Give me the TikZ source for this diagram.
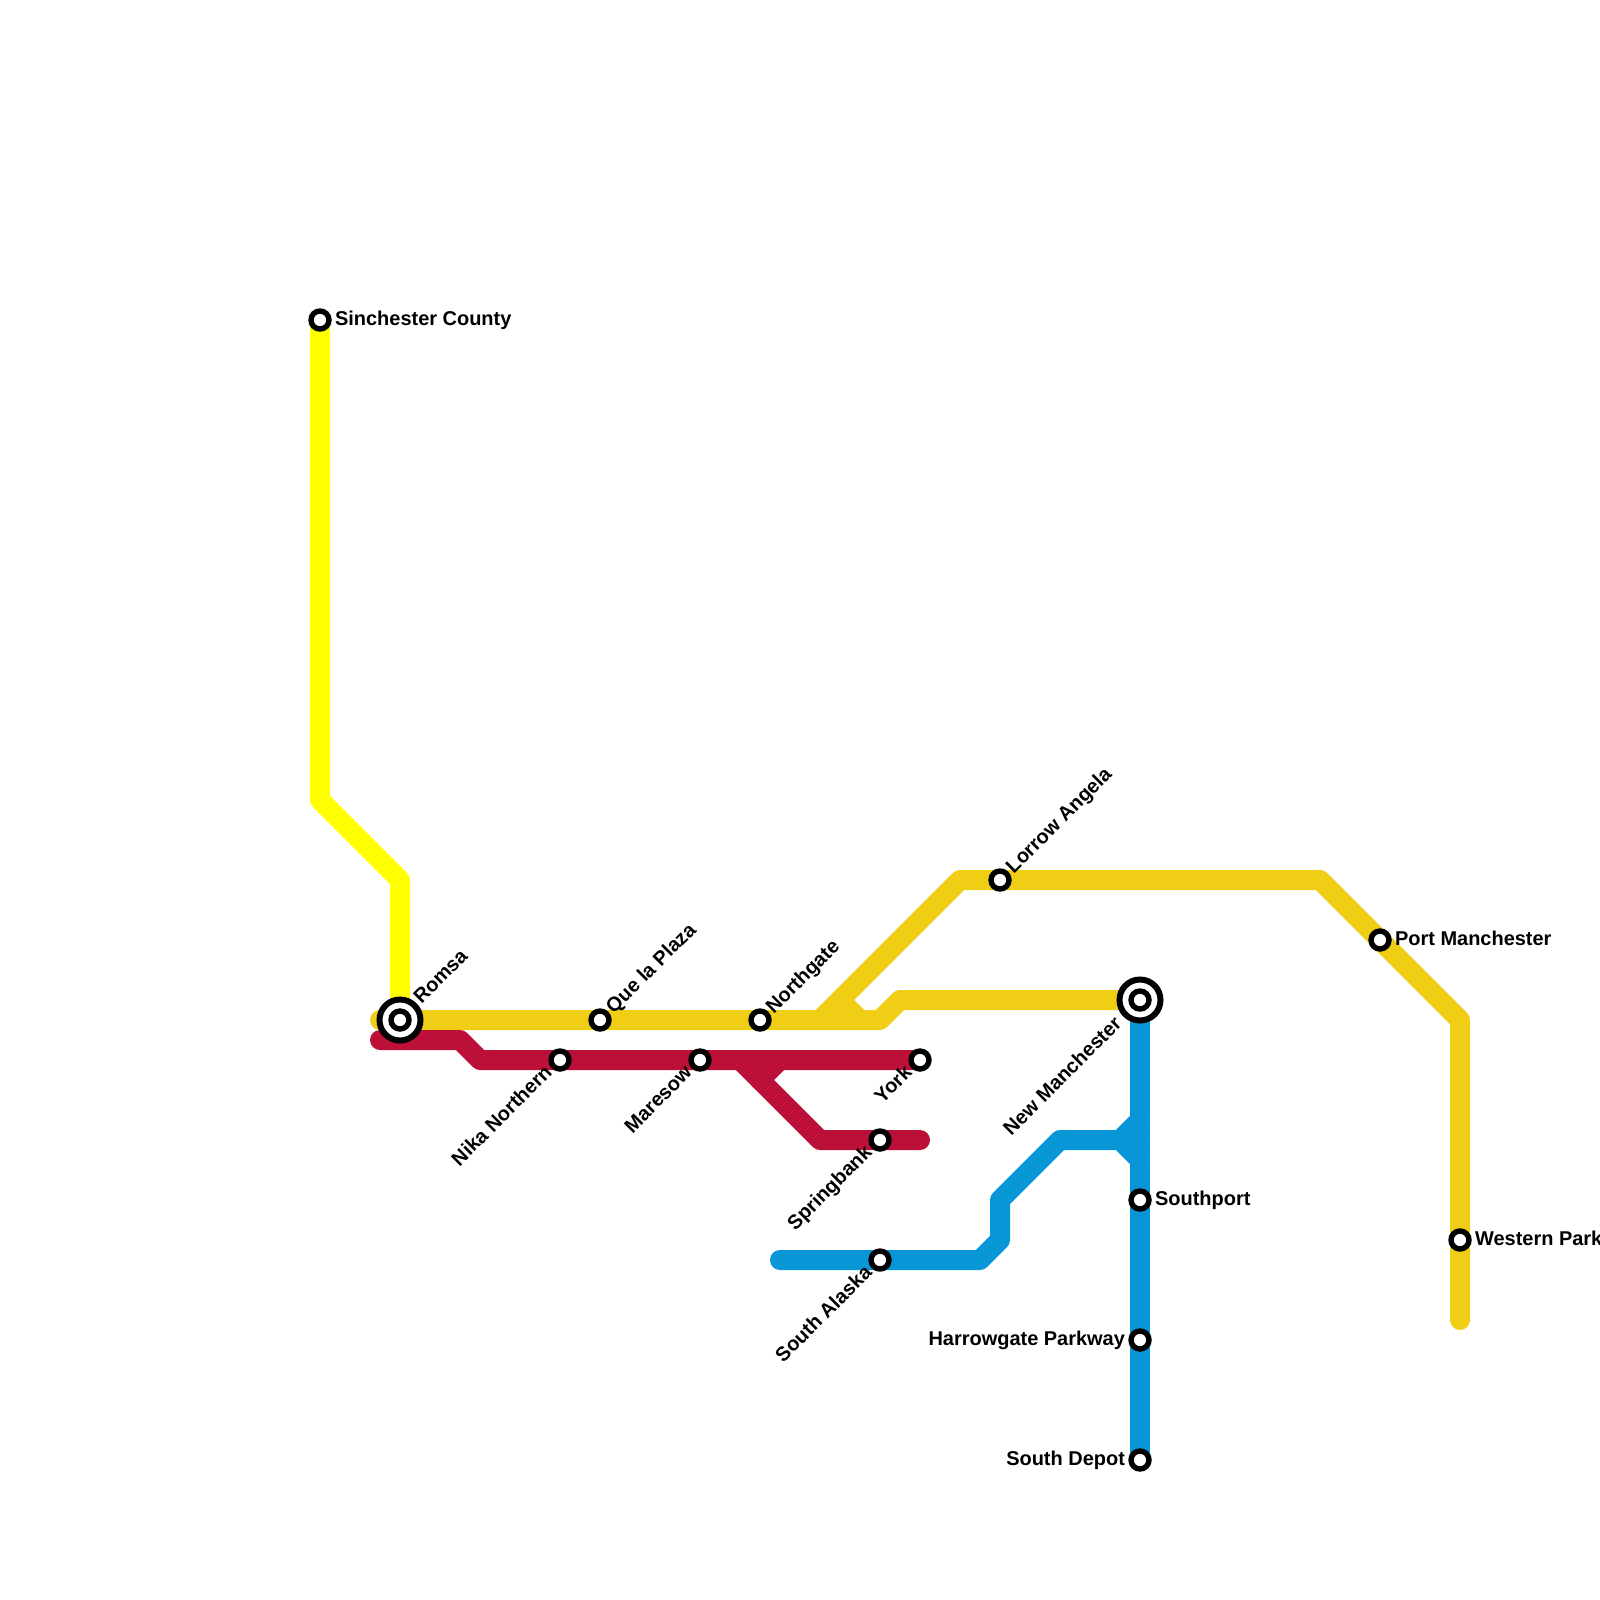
\documentclass[tikz,border=0pt]{standalone}
\usepackage{fontspec}
\setmainfont{Liberation Sans}
\usetikzlibrary{backgrounds}

\definecolor{jaune}{HTML}{FFFF00}
\definecolor{ocre}{HTML}{F0CE15}
\definecolor{rouge}{HTML}{BD1038}
\definecolor{bleu}{HTML}{0896D7}

\tikzset{
  ligne/.style={line width=0.5cm,line cap=round,line join=round},
  arret/.style={circle,draw=black,fill=white,line width=0.135cm,inner sep=0pt,outer sep=0pt,minimum size=0.45cm},
  corresp/.style={circle,draw=black,fill=white,line width=0.15cm,inner sep=0pt,outer sep=0pt,minimum size=1.025cm},
  txt/.style={inner sep=0pt,text height=1.5ex,text depth=0.25ex,font=\fontsize{14.2}{16}\selectfont\bfseries},
  txtd/.style={txt,anchor=west,xshift=0.37cm,yshift=-0.025cm},
  txtg/.style={txt,anchor=east,xshift=-0.37cm,yshift=-0.025cm},
  txthd/.style={txt,rotate=45,anchor=west,xshift=0.34cm,yshift=-0.03cm},
  txtbg/.style={txt,rotate=45,anchor=east,xshift=-0.36cm},
}

\begin{document}
\begin{tikzpicture}[x=0.5cm,y=-0.5cm] % 1 carreau = 20 px

\useasboundingbox (0,0) rectangle (80,80);

% --------- CORRESPONDANCES ----------
\node[corresp] (romsa) at (20,51) {};
\node[arret] (romsa-c) at (romsa) {};
\node[txthd,xshift=0.31cm,yshift=0.04cm] (romsa-txt) at (romsa) {Romsa};
\node[corresp] (newmanchester) at (57,50) {};
\node[arret] (newmanchester-c) at (newmanchester) {};
\node[txtbg,xshift=-0.38cm,yshift=-0.02cm] (newmanchester-txt) at (newmanchester) {New Manchester};

% --------- ARRETS ----------
\foreach \nom/\x/\y/\sty/\txt in {
  sinchester/16/16/txtd/Sinchester County,
  quelaplaza/30/51/txthd/Que la Plaza,
  nika/28/53/txtbg/Nika Northern,
  maresow/35/53/txtbg/Maresow,
  northgate/38/51/txthd/Northgate,
  york/46/53/txtbg/York,
  springbank/44/57/txtbg/Springbank,
  southalaska/44/63/txtbg/South Alaska,
  lorrow/50/44/txthd/Lorrow Angela,
  southport/57/60/txtd/Southport,
  harrowgate/57/67/txtg/Harrowgate Parkway,
  southdepot/57/73/txtg/South Depot,
  portmanchester/69/47/txtd/Port Manchester,
  westernpark/73/62/txtd/Western Park%
}{
  \node[arret] (\nom) at (\x,\y) {};
  \node[\sty] (\nom-txt) at (\nom) {\txt};
}

% Coudes des lignes
\coordinate (j1) at (16,40);
\coordinate (j2) at (20,44);
\coordinate (o0) at (19,51);
\coordinate (o1) at (44,51);
\coordinate (o2) at (45,50);
\coordinate (o3) at (41,51);
\coordinate (o4) at (48,44);
\coordinate (o5) at (66,44);
\coordinate (o6) at (73,51);
\coordinate (o7) at (73,66);
\coordinate (o8) at (42,50);
\coordinate (o9) at (43,51);
\coordinate (r0) at (19,52);
\coordinate (r1) at (23,52);
\coordinate (r2) at (24,53);
\coordinate (r3) at (37,53);
\coordinate (r4) at (41,57);
\coordinate (r5) at (46,57);
\coordinate (r6) at (38,54);
\coordinate (r7) at (39,53);
\coordinate (b0) at (39,63);
\coordinate (b1) at (49,63);
\coordinate (b2) at (50,62);
\coordinate (b3) at (50,60);
\coordinate (b4) at (53,57);
\coordinate (b5) at (57,57);
\coordinate (b6) at (56,57);
\coordinate (b7) at (57,56);
\coordinate (b8) at (57,58);

% --------- LIGNES ----------
\begin{pgfonlayer}{background}
% Ligne jaune
\draw[ligne,jaune] (sinchester.center) -- (j1) -- (j2) -- (romsa.center);

% Ligne ocre
\draw[ligne,ocre] (o0) -- (o1) -- (o2) -- (newmanchester.center);
\draw[ligne,ocre] (o3) -- (o4) -- (o5) -- (o6) -- (o7);
\draw[ligne,ocre] (o8) -- (o9);

% Ligne rouge
\draw[ligne,rouge] (r0) -- (r1) -- (r2) -- (york.center);
\draw[ligne,rouge] (r3) -- (r4) -- (r5);
\draw[ligne,rouge] (r6) -- (r7);

% Ligne bleue
\draw[ligne,bleu] (newmanchester.center) -- (southdepot.center);
\draw[ligne,bleu] (b0) -- (b1) -- (b2) -- (b3) -- (b4) -- (b5);
\draw[ligne,bleu] (b7) -- (b6) -- (b8);
\end{pgfonlayer}

\end{tikzpicture}
\end{document}
